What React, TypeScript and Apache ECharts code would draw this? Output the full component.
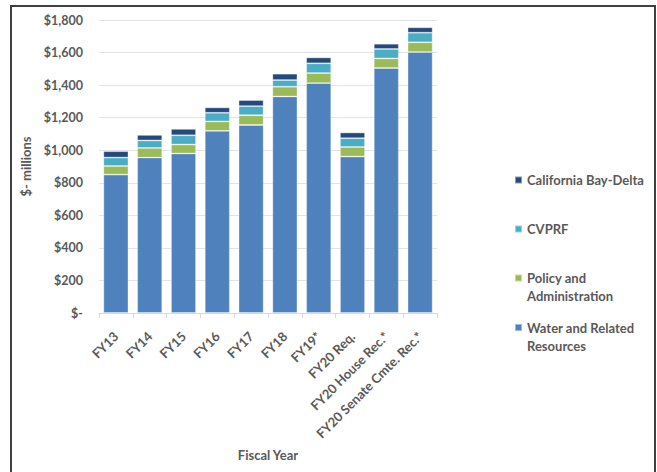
import React, { useEffect, useRef } from "react";
import * as echarts from "echarts";

const categories = ["FY13", "FY14", "FY15", "FY16", "FY17", "FY18", "FY19*", "FY20 Req.", "FY20 House Rec.*", "FY20 Senate Cmte. Rec.*"];
const waterResources = [850, 955, 980, 1119, 1155, 1330, 1412, 961, 1505, 1603];
const policyAdmin = [53, 59, 55, 58, 60, 60, 62, 59, 59, 60];
const cvprf = [52, 46, 57, 53, 56, 41, 60, 54, 58, 59];
const bayDelta = [39, 34, 39, 33, 37, 39, 36, 35, 32, 33];

const seriesNames = ["Water and Related Resources", "Policy and Administration", "CVPRF", "California Bay-Delta"];
const legendLabels = ["Water and Related\nResources", "Policy and\nAdministration", "CVPRF", "California Bay-Delta"];
const colors = ["#4F81BD", "#9BBB59", "#4BACC6", "#24497A"];

const FONT = "Lato, 'Open Sans', sans-serif";
const GRAY = "#595959";

export default function App() {
  const ref = useRef<HTMLDivElement>(null);
  useEffect(() => {
    if (!ref.current) return;
    const chart = echarts.init(ref.current, undefined, { renderer: "svg" });
    const dataSets = [waterResources, policyAdmin, cvprf, bayDelta];
    const legendTops = [318.5, 269, 220, 171];
    const twoLine = [true, true, false, false];
    chart.setOption({
      animation: false,
      backgroundColor: "#ffffff",
      textStyle: { fontFamily: FONT },
      graphic: [
        {
          type: "rect",
          shape: { x: 11, y: 6, width: 644, height: 480 },
          style: { fill: "none", stroke: "#404040", lineWidth: 2 },
          silent: true,
        },
      ],
      legend: seriesNames.map((name, i) => ({
        orient: "vertical",
        left: 514,
        top: legendTops[i],
        padding: 0,
        itemWidth: 7,
        itemHeight: twoLine[i] ? 25 : 7,
        icon: twoLine[i] ? "path://M0,0h7v7h-7zM0,25" : "rect",
        data: [{ name }],
        formatter: () => legendLabels[i],
        textStyle: {
          fontFamily: FONT,
          fontSize: 13,
          fontWeight: "bold",
          color: GRAY,
          lineHeight: 18,
        },
      })),
      grid: { left: 99, right: 220, top: 20, bottom: 159, containLabel: false },
      xAxis: {
        type: "category",
        data: categories,
        name: "Fiscal Year",
        nameLocation: "middle",
        nameGap: 135,
        nameTextStyle: { fontFamily: FONT, fontSize: 13, fontWeight: "bold", color: GRAY },
        axisLine: { lineStyle: { color: "#d9d9d9", width: 1 } },
        axisTick: { show: true, length: 5, lineStyle: { color: "#d9d9d9" } },
        axisLabel: {
          rotate: 45,
          interval: 0,
          margin: 21,
          fontFamily: FONT,
          fontSize: 13,
          fontWeight: "bold",
          color: GRAY,
        },
      },
      yAxis: {
        type: "value",
        min: 0,
        max: 1800,
        interval: 200,
        name: "$- millions",
        nameLocation: "middle",
        nameGap: 63,
        nameTextStyle: { fontFamily: FONT, fontSize: 13, fontWeight: "bold", color: GRAY },
        axisLine: { show: false },
        axisTick: { show: false },
        splitLine: { lineStyle: { color: "#e3e3e3", width: 1 } },
        axisLabel: {
          margin: 16,
          fontFamily: FONT,
          fontSize: 12.5,
          fontWeight: "bold",
          color: GRAY,
          formatter: (v: number) => (v === 0 ? "$-" : "$" + v.toLocaleString("en-US")),
        },
      },
      series: seriesNames.map((name, i) => ({
        name,
        type: "bar",
        stack: "total",
        barCategoryGap: "26%",
        data: dataSets[i],
        itemStyle: { color: colors[i], borderColor: "rgba(255,255,255,0.45)", borderWidth: 0.8 },
      })),
    });
    return () => chart.dispose();
  }, []);
  return <div ref={ref} style={{ position: "fixed", left: 0, top: 0, width: 657, height: 472 }} />;
}
